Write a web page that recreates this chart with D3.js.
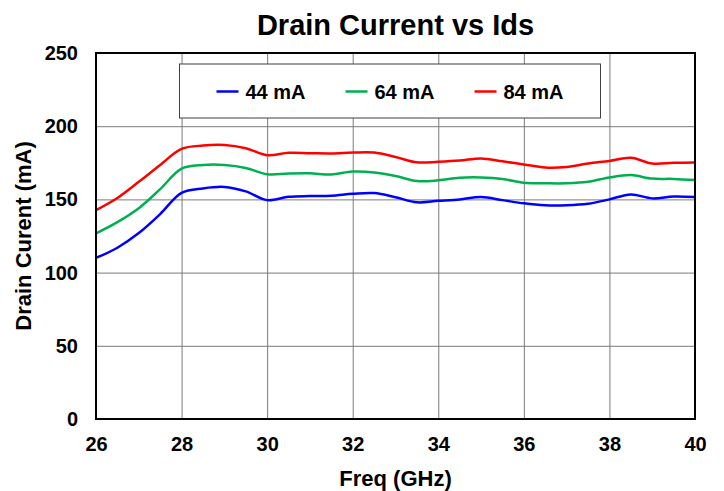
<!DOCTYPE html>
<html>
<head>
<meta charset="utf-8">
<script src="https://cdn.jsdelivr.net/npm/d3@7"></script>
<style>
  body { margin: 0; background: #fff; }
  text { font-family: "Liberation Sans", Arial, sans-serif; font-weight: bold; fill: #000; }
  .grid line { stroke: #7a7a7a; stroke-width: 1; }
  .grid path { display: none; }
</style>
</head>
<body>
<div id="chart"></div>
<script>
// frequency points (GHz)
var freq = [26, 26.5, 27, 27.5, 28, 28.5, 29, 29.5, 30, 30.5, 31, 31.5, 32, 32.5, 33,
  33.5, 34, 34.5, 35, 35.5, 36, 36.5, 37, 37.5, 38, 38.5, 39, 39.5, 40];

// drain current (mA) per bias
var ids44 = [110, 117, 127, 140, 154.5, 157.5, 158.5, 155.5, 149.5, 151.8, 152.3, 152.5, 153.8, 154.3, 151.5,
  148, 149, 150, 151.6, 149.5, 147.3, 146, 146, 147, 150, 153.4, 150.7, 152, 151.6];
var ids64 = [126.8, 134.5, 144, 157, 171, 173.5, 173.5, 171.5, 167.2, 167.7, 167.8, 167, 169, 168.4, 166,
  162.5, 163, 164.8, 165, 164, 161.3, 161, 161, 162, 165, 166.6, 164.2, 164, 163.2];
var ids84 = [142.7, 151, 162, 173.5, 184.5, 186.8, 187.2, 185, 180.2, 181.8, 181.6, 181.4, 182, 182, 179,
  175.3, 175.7, 176.5, 178, 176, 173.9, 171.8, 172.2, 174.5, 176.3, 178.4, 174.5, 175, 175.2];

var seriesNames = ["44 mA", "64 mA", "84 mA"];
var seriesColors = ["#0000ff", "#00b050", "#ff0000"];
var xTicks = [26, 28, 30, 32, 34, 36, 38, 40];
var yTicks = [0, 50, 100, 150, 200, 250];

var svgWidth = 724;
var svgHeight = 491;
var margin = { top: 53, right: 29, bottom: 72, left: 96 };
var width = svgWidth - margin.left - margin.right;
var height = svgHeight - margin.top - margin.bottom;

var svg = d3.select("#chart")
  .append("svg")
  .attr("width", svgWidth)
  .attr("height", svgHeight);

var chartGroup = svg.append("g")
  .attr("transform", `translate(${margin.left}, ${margin.top})`);

var xScale = d3.scaleLinear().domain([26, 40]).range([0, width]);
var yScale = d3.scaleLinear().domain([0, 250]).range([height, 0]);

// gridlines
chartGroup.append("g")
  .attr("class", "grid")
  .attr("transform", `translate(0, ${height})`)
  .call(d3.axisBottom(xScale).tickValues(xTicks).tickSize(-height).tickFormat(""));

chartGroup.append("g")
  .attr("class", "grid")
  .call(d3.axisLeft(yScale).tickValues(yTicks).tickSize(-width).tickFormat(""));

// tick labels
var xAxis = chartGroup.append("g")
  .attr("transform", `translate(0, ${height})`)
  .call(d3.axisBottom(xScale).tickValues(xTicks).tickSize(0).tickPadding(18).tickFormat(d3.format("d")));
xAxis.select(".domain").remove();
xAxis.selectAll("text").style("font-size", "20px").attr("fill", "#000");

var yAxis = chartGroup.append("g")
  .call(d3.axisLeft(yScale).tickValues(yTicks).tickSize(0).tickPadding(18).tickFormat(d3.format("d")));
yAxis.select(".domain").remove();
yAxis.selectAll("text").style("font-size", "20px").attr("fill", "#000");

// series lines
var allSeries = [ids44, ids64, ids84];
var line = d3.line()
  .x((d, i) => xScale(freq[i]))
  .y(d => yScale(d))
  .curve(d3.curveCatmullRom.alpha(0.5));

chartGroup.selectAll(".series")
  .data(allSeries)
  .enter()
  .append("path")
  .attr("class", "series")
  .attr("fill", "none")
  .attr("stroke", (d, i) => seriesColors[i])
  .attr("stroke-width", 2.5)
  .attr("d", line);

// plot frame
chartGroup.append("rect")
  .attr("width", width)
  .attr("height", height)
  .attr("fill", "none")
  .attr("stroke", "#000")
  .attr("stroke-width", 2);

// legend
var legend = svg.append("g")
  .attr("transform", "translate(179.5, 64)");

legend.append("rect")
  .attr("width", 421)
  .attr("height", 54)
  .attr("fill", "#fff")
  .attr("stroke", "#404040")
  .attr("stroke-width", 1);

var items = legend.selectAll(".item")
  .data(seriesNames)
  .enter()
  .append("g")
  .attr("class", "item")
  .attr("transform", (d, i) => `translate(${37 + i * 129}, 27.5)`);

items.append("line")
  .attr("x1", 0)
  .attr("x2", 22)
  .attr("stroke", (d, i) => seriesColors[i])
  .attr("stroke-width", 2.5);

items.append("text")
  .attr("x", 29)
  .attr("dy", "0.36em")
  .style("font-size", "20px")
  .text(d => d);

// title
svg.append("text")
  .attr("x", margin.left + width / 2)
  .attr("y", 35)
  .attr("text-anchor", "middle")
  .style("font-size", "29px")
  .text("Drain Current vs Ids");

// axis titles
svg.append("text")
  .attr("x", margin.left + width / 2)
  .attr("y", 486)
  .attr("text-anchor", "middle")
  .style("font-size", "22px")
  .text("Freq (GHz)");

svg.append("text")
  .attr("transform", `translate(31, ${margin.top + height / 2}) rotate(-90)`)
  .attr("text-anchor", "middle")
  .style("font-size", "22px")
  .text("Drain Curent (mA)");
</script>
</body>
</html>
